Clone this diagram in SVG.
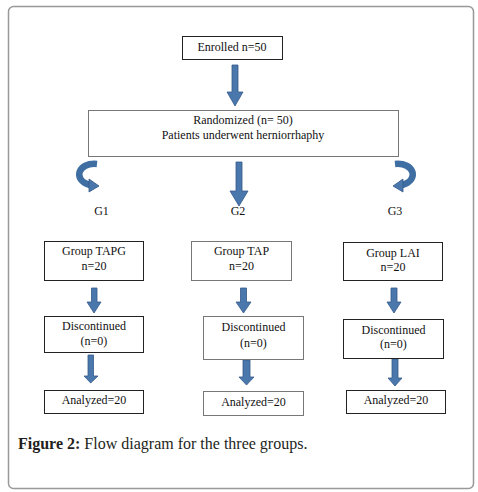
<svg xmlns="http://www.w3.org/2000/svg" width="478" height="492" viewBox="0 0 478 492">
<style>
.bx{fill:#fff;stroke:#222;stroke-width:1}
.bg{fill:#fff;stroke:#777;stroke-width:1}
.t{font-family:"Liberation Serif","Times New Roman",serif;font-size:12px;fill:#111;text-anchor:middle}
.ar{fill:#4a78ad;stroke:#35598a;stroke-width:0.8}
.cv{fill:none;stroke:#3f6ea3;stroke-width:6.5}
.cap{font-family:"Liberation Serif","Times New Roman",serif;font-size:16px;fill:#231f20}
</style>
<rect x="8.5" y="6.5" width="465" height="482" rx="5" fill="#fff" stroke="#999" stroke-width="1.5"/>
<g id="connectors">
<path class="ar" d="M232 65H238V92H243L235 106L227 92H232Z"/>
<path class="ar" d="M236 162H242V191H248L239 206L230 191H236Z"/>
<g id="curveL">
<path class="cv" d="M97 164C78 162 72 180 90 185"/>
<path class="ar" d="M89 179L99 186L89 192Z"/>
</g>
<g transform="translate(492,3) scale(-1,1)">
<path class="cv" d="M97 161C78 159 72 177 90 182"/>
<path class="ar" d="M89 176L99 183L89 189Z"/>
</g>
<path class="ar" d="M91.5 288H97V302H101L94 313L87 302H91.5Z"/>
<path class="ar" d="M240.5 288H246.5V302H251L243.5 313L236 302H240.5Z"/>
<path class="ar" d="M391 288H397V302H401L394 313L387 302H391Z"/>
<path class="ar" d="M88 355H93.5V376H98L90.7 383L84 376H88Z"/>
<path class="ar" d="M243 360H250V377H254L246.5 385L239 377H243Z"/>
<path class="ar" d="M392 359H398V378H402L395 386L388 378H392Z"/>
</g>
<g id="enrolled"><rect class="bx" x="182.5" y="36.5" width="100" height="23"/><text class="t" x="232" y="51">Enrolled n=50</text></g>
<g id="randomized"><rect class="bg" x="88.5" y="110.5" width="310" height="46"/><text class="t" x="243" y="124">Randomized (n= 50)</text><text class="t" x="243" y="139">Patients underwent herniorrhaphy</text></g>
<g id="g1"><text class="t" x="101.5" y="215">G1</text></g>
<g id="g2"><text class="t" x="238" y="215">G2</text></g>
<g id="g3"><text class="t" x="395" y="215">G3</text></g>
<g id="tapg"><rect class="bx" x="44.5" y="241.5" width="99" height="39"/><text class="t" x="94" y="255">Group TAPG</text><text class="t" x="94" y="270">n=20</text></g>
<g id="tap"><rect class="bg" x="191.5" y="241.5" width="100" height="39"/><text class="t" x="241.5" y="255">Group TAP</text><text class="t" x="241.5" y="270">n=20</text></g>
<g id="lai"><rect class="bx" x="343.5" y="242.5" width="99" height="38"/><text class="t" x="393" y="257">Group LAI</text><text class="t" x="393" y="271">n=20</text></g>
<g id="disc1"><rect class="bx" x="44.5" y="316.5" width="99" height="36"/><text class="t" x="94" y="330">Discontinued</text><text class="t" x="94" y="345">(n=0)</text></g>
<g id="disc2"><rect class="bg" x="203.5" y="316.5" width="100" height="43"/><text class="t" x="253.5" y="330.5">Discontinued</text><text class="t" x="253.5" y="346.5">(n=0)</text></g>
<g id="disc3"><rect class="bx" x="343.5" y="319.5" width="100" height="39"/><text class="t" x="393.5" y="333.5">Discontinued</text><text class="t" x="393.5" y="348">(n=0)</text></g>
<g id="anal1"><rect class="bx" x="44.5" y="390.5" width="99" height="23"/><text class="t" x="94" y="404">Analyzed=20</text></g>
<g id="anal2"><rect class="bg" x="203.5" y="391.5" width="100" height="24"/><text class="t" x="253.5" y="406">Analyzed=20</text></g>
<g id="anal3"><rect class="bx" x="346.5" y="390.5" width="99" height="23"/><text class="t" x="396" y="403.5">Analyzed=20</text></g>
<text class="cap" x="18" y="449"><tspan font-weight="bold">Figure 2:</tspan> Flow diagram for the three groups.</text>
</svg>
